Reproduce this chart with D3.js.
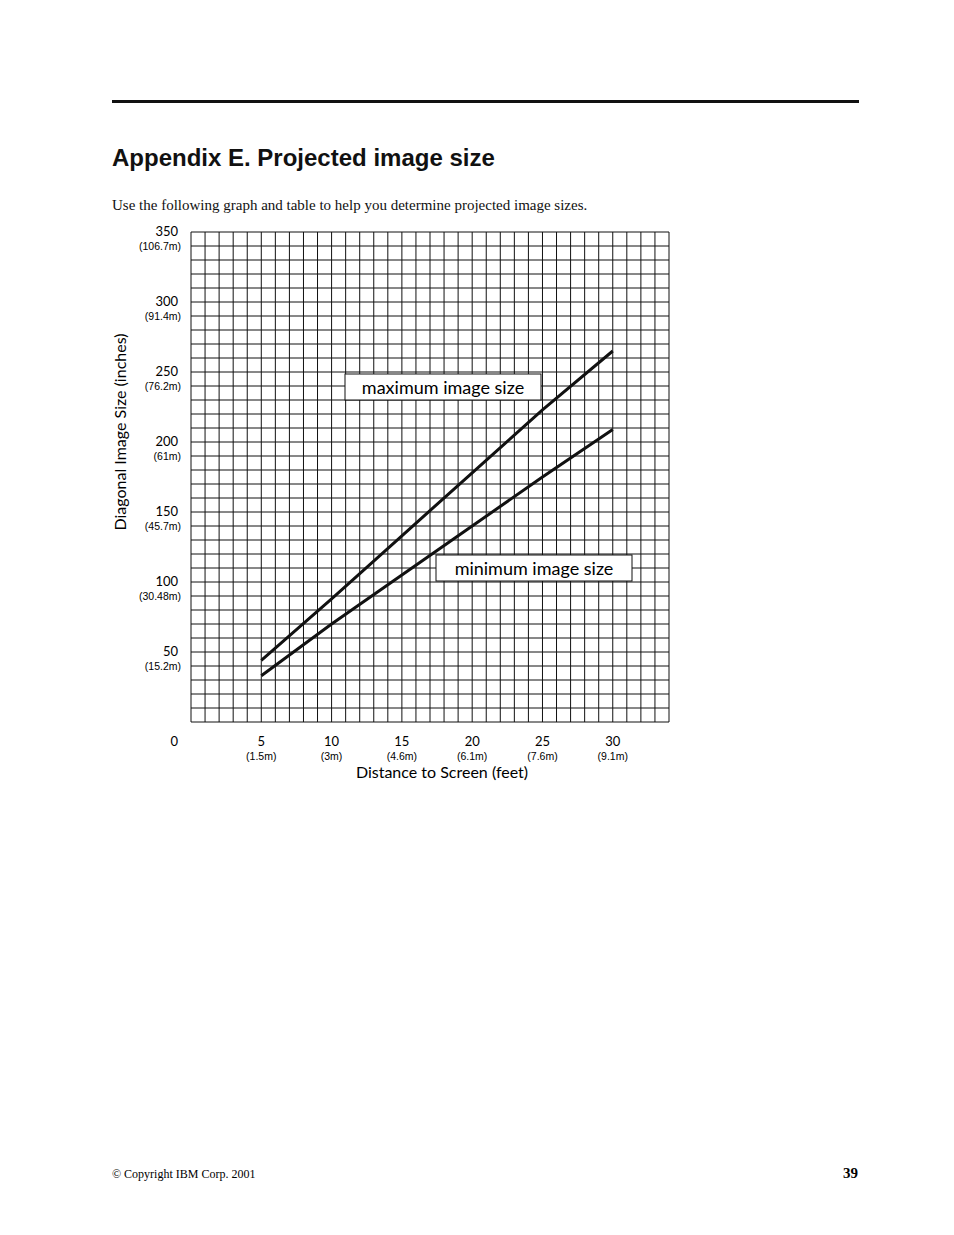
<!DOCTYPE html>
<html><head><meta charset="utf-8">
<script src="https://cdn.jsdelivr.net/npm/d3@7"></script>
<style>body{margin:0;background:#fff}</style>
</head><body>
<div id="chart"></div>
<script>
var distances = [5, 10, 15, 20, 25, 30];
var maxSize = [44, 88, 133, 178, 223, 265];
var minSize = [33, 70, 105, 140, 175, 209];
var yTicks = [50, 100, 150, 200, 250, 300, 350];
var yMetric = ["(15.2m)", "(30.48m)", "(45.7m)", "(61m)", "(76.2m)", "(91.4m)", "(106.7m)"];
var xMetric = ["(1.5m)", "(3m)", "(4.6m)", "(6.1m)", "(7.6m)", "(9.1m)"];

var svg = d3.select("#chart").append("svg").attr("width", 954).attr("height", 1235);

svg.append("rect").attr("x", 112).attr("y", 100).attr("width", 747).attr("height", 3).attr("fill", "#111");
svg.append("text").attr("x", 112).attr("y", 166).attr("font-family", "Liberation Sans, Arial")
    .attr("font-weight", "bold").attr("font-size", 24).attr("fill", "#111").text("Appendix E. Projected image size");
svg.append("text").attr("x", 112).attr("y", 210).attr("font-family", "Liberation Serif, Times")
    .attr("font-size", 15).attr("fill", "#111")
    .text("Use the following graph and table to help you determine projected image sizes.");

var x = d3.scaleLinear().domain([0, 34]).range([191, 669]);
var y = d3.scaleLinear().domain([0, 350]).range([722, 232]);

var g = svg.append("g");
g.selectAll(".vl").data(d3.range(0, 35)).enter().append("line")
    .attr("x1", d => x(d)).attr("x2", d => x(d)).attr("y1", y(0)).attr("y2", y(350))
    .attr("stroke", "#111").attr("stroke-width", 1);
g.selectAll(".hl").data(d3.range(0, 351, 10)).enter().append("line")
    .attr("y1", d => y(d)).attr("y2", d => y(d)).attr("x1", x(0)).attr("x2", x(34))
    .attr("stroke", "#111").attr("stroke-width", 1);

var lbl = "Lato, sans-serif";
yTicks.forEach(function (v, i) {
    svg.append("text").attr("x", 178).attr("y", y(v) + 4).attr("text-anchor", "end")
        .attr("font-family", lbl).attr("font-size", 13).text(v);
    svg.append("text").attr("x", 181).attr("y", y(v) + 18).attr("text-anchor", "end")
        .attr("font-family", "Liberation Sans, Arial").attr("font-size", 10.5).text(yMetric[i]);
});
svg.append("text").attr("x", 178).attr("y", 746).attr("text-anchor", "end")
    .attr("font-family", lbl).attr("font-size", 13).text("0");
distances.forEach(function (v, i) {
    svg.append("text").attr("x", x(v)).attr("y", 746).attr("text-anchor", "middle")
        .attr("font-family", lbl).attr("font-size", 13).text(v);
    svg.append("text").attr("x", x(v)).attr("y", 760).attr("text-anchor", "middle")
        .attr("font-family", "Liberation Sans, Arial").attr("font-size", 10.5).text(xMetric[i]);
});
svg.append("text").attr("x", 442).attr("y", 778).attr("text-anchor", "middle")
    .attr("font-family", lbl).attr("font-size", 16).text("Distance to Screen (feet)");
svg.append("text").attr("transform", "translate(126,432) rotate(-90)").attr("text-anchor", "middle")
    .attr("font-family", lbl).attr("font-size", 16).text("Diagonal Image Size (inches)");

var line = d3.line().x(d => x(d[0])).y(d => y(d[1]));
[maxSize, minSize].forEach(function (s) {
    svg.append("path").datum(distances.map((d, i) => [d, s[i]])).attr("d", line)
        .attr("fill", "none").attr("stroke", "#111").attr("stroke-width", 3);
});

function box(x0, y0, w, h, t) {
    svg.append("rect").attr("x", x0).attr("y", y0).attr("width", w).attr("height", h)
        .attr("fill", "#fff").attr("stroke", "#111").attr("stroke-width", 1);
    svg.append("text").attr("x", x0 + w / 2).attr("y", y0 + 20).attr("text-anchor", "middle")
        .attr("font-family", lbl).attr("font-size", 18).text(t);
}
box(345, 374, 196, 26, "maximum image size");
box(436, 555, 196, 26, "minimum image size");

svg.append("text").attr("x", 112).attr("y", 1178).attr("font-family", "Liberation Serif, Times")
    .attr("font-size", 12).text("© Copyright IBM Corp. 2001");
svg.append("text").attr("x", 858).attr("y", 1178).attr("text-anchor", "end").attr("font-family", "Liberation Serif, Times")
    .attr("font-weight", "bold").attr("font-size", 15).text("39");
</script>
</body></html>
